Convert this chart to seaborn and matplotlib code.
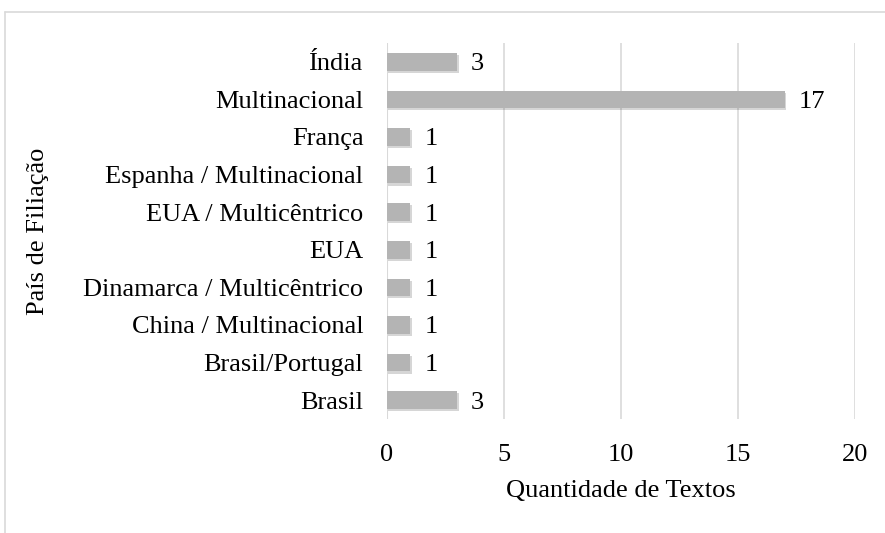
import matplotlib
matplotlib.use("Agg")
import matplotlib.pyplot as plt
import matplotlib.patheffects as pe
import seaborn as sns
import pandas as pd

# ============================================================
# Data
# ============================================================

countries = ['Índia', 'Multinacional', 'França', 'Espanha / Multinacional',
             'EUA / Multicêntrico', 'EUA', 'Dinamarca / Multicêntrico',
             'China / Multinacional', 'Brasil/Portugal', 'Brasil']
counts = [3, 17, 1, 1, 1, 1, 1, 1, 1, 3]

df = pd.DataFrame({'pais': countries, 'qtd': counts})

# ============================================================
# Plot
# ============================================================

sns.set_theme(style='white')
plt.rcParams['font.family'] = ['Liberation Serif', 'DejaVu Serif']

fig = plt.figure(figsize=(8.85, 5.33), dpi=100)
ax = fig.add_axes([387 / 885, 1 - 419 / 533, (855 - 387) / 885, (419 - 43) / 533])

sns.barplot(data=df, x='qtd', y='pais', color='#b4b4b4', width=0.47,
            saturation=1, linewidth=0, ax=ax, zorder=3)
for p in ax.patches:
    p.set_path_effects([pe.SimplePatchShadow(offset=(1, -1.5), alpha=0.2),
                        pe.Normal()])

for i, v in enumerate(counts):
    ax.annotate(f'{v}', xy=(v, i), xytext=(10, 0), textcoords='offset points',
                va='center_baseline', ha='left', fontsize=19, color='black')

ax.set_xlim(0, 20)
ax.set_xticks([0, 5, 10, 15, 20])
ax.xaxis.grid(True, color='#d9d9d9', linewidth=1.2, zorder=0)
for s in ax.spines.values():
    s.set_visible(False)
ax.axvline(0, color='#d9d9d9', linewidth=1.5, zorder=1)
ax.tick_params(axis='both', length=0, labelsize=19, colors='black')
ax.tick_params(axis='y', pad=17)
ax.tick_params(axis='x', pad=18)
ax.set_xlabel('Quantidade de Textos', fontsize=19, labelpad=10, color='black')
ax.set_ylabel('País de Filiação', fontsize=19, color='black')
ax.yaxis.set_label_coords(-(387 - 49) / 468, 0.5)

# chart border (partial, like the cropped original)
fig.add_artist(plt.Line2D([5 / 885, 5 / 885], [0, 1 - 12 / 533],
                          color='#d9d9d9', linewidth=1.2, transform=fig.transFigure))
fig.add_artist(plt.Line2D([5 / 885, 1], [1 - 12 / 533, 1 - 12 / 533],
                          color='#d9d9d9', linewidth=1.2, transform=fig.transFigure))

fig.savefig('out.png', dpi=100)
